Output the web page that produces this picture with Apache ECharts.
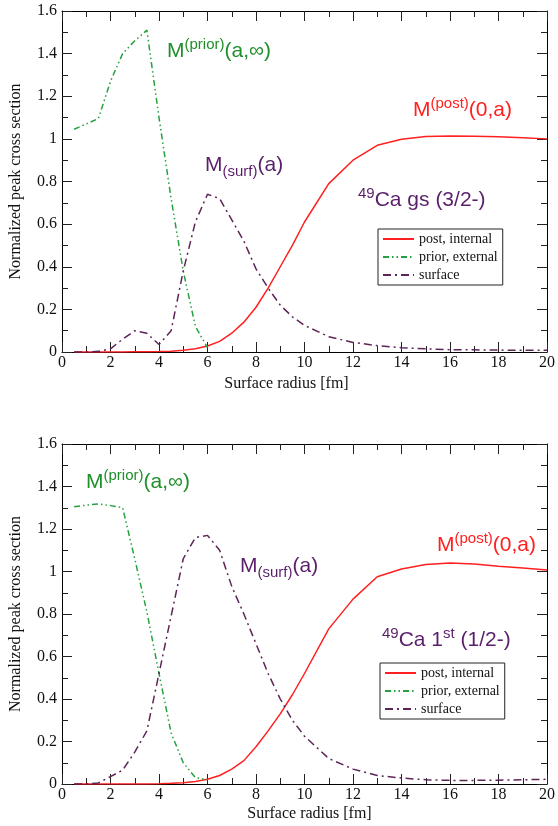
<!DOCTYPE html>
<html>
<head>
<meta charset="utf-8">
<script src="https://cdn.jsdelivr.net/npm/echarts@6/dist/echarts.min.js"></script>
<style>
html,body{margin:0;padding:0;background:#fff;}
#chart{width:558px;height:826px;}
</style>
</head>
<body>
<div id="chart"></div>
<script>
// ---------- data ----------
const xTicks = [0, 2, 4, 6, 8, 10, 12, 14, 16, 18, 20];
const yTicks = [0, 0.2, 0.4, 0.6, 0.8, 1, 1.2, 1.4, 1.6];
const seriesNames = ['post, internal', 'prior, external', 'surface'];

// panel 1: 49Ca gs (3/2-)
const gsPriorR = [0.5, 1, 1.5, 2, 2.5, 3, 3.5, 4, 4.5, 5, 5.5, 6];
const gsPrior  = [1.045, 1.07, 1.095, 1.27, 1.40, 1.46, 1.51, 1.10, 0.72, 0.38, 0.12, 0.02];
const gsR = [0.5, 1, 1.5, 2, 2.5, 3, 3.5, 4, 4.5, 5, 5.5, 6, 6.5, 7, 7.5, 8, 8.5, 9, 9.5, 10, 11, 12, 13, 14, 15, 16, 17, 18, 19, 20];
const gsSurface = [0, 0, 0.003, 0.015, 0.06, 0.10, 0.088, 0.035, 0.10, 0.38, 0.61, 0.74, 0.72, 0.62, 0.52, 0.39, 0.30, 0.22, 0.165, 0.125, 0.072, 0.045, 0.03, 0.02, 0.015, 0.011, 0.01, 0.009, 0.008, 0.008];
const gsPost    = [0, 0, 0, 0, 0, 0.001, 0.001, 0.002, 0.004, 0.008, 0.015, 0.028, 0.05, 0.088, 0.14, 0.21, 0.30, 0.40, 0.50, 0.61, 0.79, 0.90, 0.97, 0.998, 1.011, 1.013, 1.012, 1.01, 1.005, 1.0];

// panel 2: 49Ca 1st (1/2-)
const exPriorR = [0.5, 1, 1.5, 2, 2.5, 3, 3.5, 4, 4.5, 5, 5.5, 6];
const exPrior  = [1.305, 1.312, 1.318, 1.31, 1.30, 1.06, 0.81, 0.52, 0.24, 0.10, 0.03, 0.02];
const exR = [0.5, 1, 1.5, 2, 2.5, 3, 3.5, 4, 4.5, 5, 5.5, 6, 6.5, 7, 7.5, 8, 8.5, 9, 9.5, 10, 11, 12, 13, 14, 15, 16, 17, 18, 19, 20];
const exSurface = [0, 0, 0.005, 0.035, 0.065, 0.15, 0.25, 0.52, 0.79, 1.06, 1.16, 1.17, 1.10, 0.93, 0.80, 0.66, 0.52, 0.40, 0.30, 0.225, 0.12, 0.07, 0.04, 0.028, 0.02, 0.017, 0.017, 0.018, 0.02, 0.022];
const exPost    = [0, 0, 0, 0, 0, 0, 0, 0.001, 0.003, 0.006, 0.012, 0.022, 0.04, 0.07, 0.11, 0.175, 0.25, 0.33, 0.42, 0.52, 0.73, 0.87, 0.975, 1.012, 1.033, 1.04, 1.035, 1.025, 1.016, 1.007];

// ---------- styles ----------
const RED = '#ff2020', GREEN = '#27a040', PURPLE = '#5e2458';
const TXT_GREEN = '#1f8f2a', TXT_PURPLE = '#5a1f6a';
const SERIF = '"Liberation Serif", "Times New Roman", serif';
const SANS = '"Liberation Sans", Arial, sans-serif';

const zip = (xs, ys) => xs.map((x, i) => [x, ys[i]]);

const chart = echarts.init(document.getElementById('chart'), null, {renderer: 'canvas'});

const grids = [
  {left: 58, top: 11, width: 492, height: 341},
  {left: 62, top: 444, width: 488, height: 340}
];

function xAx(gi, pos, nameOpts) {
  const o = {
    type: 'value', gridIndex: gi, position: pos, min: xTicks[0], max: xTicks[xTicks.length - 1],
    interval: xTicks[1] - xTicks[0],
    axisLine: {show: true, onZero: false, lineStyle: {color: '#000', width: 1}},
    axisTick: {show: true, inside: true, length: 10, lineStyle: {color: '#222'}},
    minorTick: {show: true, splitNumber: 2, length: 6, lineStyle: {color: '#222'}},
    splitLine: {show: false},
    axisLabel: {show: pos === 'bottom', fontFamily: SERIF, fontSize: 16, color: '#111', margin: 3}
  };
  if (nameOpts) Object.assign(o, nameOpts);
  return o;
}
function yAx(gi, pos, nameOpts) {
  const o = {
    type: 'value', gridIndex: gi, position: pos, min: yTicks[0], max: yTicks[yTicks.length - 1],
    interval: yTicks[1] - yTicks[0],
    axisLine: {show: true, onZero: false, lineStyle: {color: '#000', width: 1}},
    axisTick: {show: true, inside: true, length: 10, lineStyle: {color: '#222'}},
    minorTick: {show: true, splitNumber: 2, length: 6, lineStyle: {color: '#222'}},
    splitLine: {show: false},
    axisLabel: {show: pos === 'left', fontFamily: SERIF, fontSize: 16, color: '#111', margin: 5}
  };
  if (nameOpts) Object.assign(o, nameOpts);
  return o;
}

const yName = (gap, padding) => ({
  name: 'Normalized peak cross section', nameLocation: 'middle', nameGap: gap, nameRotate: 90,
  nameTextStyle: {fontFamily: SERIF, fontSize: 16, color: '#111', padding: padding}
});
const xName = (gap, padding) => ({
  name: 'Surface radius [fm]', nameLocation: 'middle', nameGap: gap,
  nameTextStyle: {fontFamily: SERIF, fontSize: 16, color: '#111', padding: padding}
});

function lineSeries(name, data, xi, yi, color, type) {
  return {
    name: name, type: 'line', data: data, xAxisIndex: xi, yAxisIndex: yi,
    showSymbol: false, symbol: 'none', smooth: false, clip: true,
    lineStyle: {color: color, width: 1.5, type: type},
    itemStyle: {color: color}, z: 3
  };
}
const DASHDOTDOT = [6, 3, 1.5, 3, 1.5, 3];
const DASHDOT = [8, 4, 2, 4];

// ---------- composite labels (sup/sub) ----------
const mctx = document.createElement('canvas').getContext('2d');
function tw(text, size) { mctx.font = size + 'px ' + SANS; return mctx.measureText(text).width; }
function composite(parts, x, yc, color) {
  const children = [];
  let cx = 0;
  parts.forEach(p => {
    children.push({
      type: 'text', x: cx, y: p.dy || 0,
      style: {text: p.t, font: p.s + 'px ' + SANS, fill: color, verticalAlign: 'middle', align: 'left'}
    });
    cx += tw(p.t, p.s);
  });
  return {type: 'group', x: x, y: yc, children: children, z: 10};
}

const M = 21, S = 15;
const graphics = [
  composite([{t: 'M', s: M}, {t: '(prior)', s: S, dy: -6}, {t: '(a,\u221E)', s: M}], 167, 51, TXT_GREEN),
  composite([{t: 'M', s: M}, {t: '(surf)', s: S, dy: 7}, {t: '(a)', s: M}], 205, 165, TXT_PURPLE),
  composite([{t: 'M', s: M}, {t: '(post)', s: S, dy: -6}, {t: '(0,a)', s: M}], 413, 110, RED),
  composite([{t: '49', s: S, dy: -6}, {t: 'Ca gs (3/2-)', s: 21}], 358, 200, TXT_PURPLE),

  composite([{t: 'M', s: M}, {t: '(prior)', s: S, dy: -6}, {t: '(a,\u221E)', s: M}], 86, 482, TXT_GREEN),
  composite([{t: 'M', s: M}, {t: '(surf)', s: S, dy: 7}, {t: '(a)', s: M}], 240, 566, TXT_PURPLE),
  composite([{t: 'M', s: M}, {t: '(post)', s: S, dy: -6}, {t: '(0,a)', s: M}], 437, 545, RED),
  composite([{t: '49', s: S, dy: -6}, {t: 'Ca 1', s: 21}, {t: 'st', s: S, dy: -6}, {t: ' (1/2-)', s: 21}], 382, 640, TXT_PURPLE)
];

function legendAt(left, top) {
  return {
    show: true, orient: 'vertical', left: left, top: top,
    data: seriesNames,
    backgroundColor: '#fff', borderColor: '#222', borderWidth: 1,
    padding: [3, 5, 3, 4], itemGap: 4, itemWidth: 31, itemHeight: 14,
    selectedMode: false,
    itemStyle: {opacity: 0},
    textStyle: {fontFamily: SERIF, fontSize: 14, color: '#111'}
  };
}

const option = {
  animation: false,
  backgroundColor: '#fff',
  grid: grids,
  legend: [legendAt(378, 229), legendAt(380, 663)],
  xAxis: [
    xAx(0, 'bottom', xName(24, [0, 36, 0, 0])),
    xAx(0, 'top'),
    xAx(1, 'bottom', xName(22, [0, 0, 0, 10])),
    xAx(1, 'top')
  ],
  yAxis: [
    yAx(0, 'left', yName(38, [0, 0, 0, 0])),
    yAx(0, 'right'),
    yAx(1, 'left', yName(38, [0, 0, 0, 0])),
    yAx(1, 'right')
  ],
  series: [
    lineSeries(seriesNames[0], zip(gsR, gsPost), 0, 0, RED, 'solid'),
    lineSeries(seriesNames[1], zip(gsPriorR, gsPrior), 0, 0, GREEN, DASHDOTDOT),
    lineSeries(seriesNames[2], zip(gsR, gsSurface), 0, 0, PURPLE, DASHDOT),
    lineSeries(seriesNames[0], zip(exR, exPost), 2, 2, RED, 'solid'),
    lineSeries(seriesNames[1], zip(exPriorR, exPrior), 2, 2, GREEN, DASHDOTDOT),
    lineSeries(seriesNames[2], zip(exR, exSurface), 2, 2, PURPLE, DASHDOT)
  ],
  graphic: graphics
};
chart.setOption(option);
</script>
</body>
</html>
